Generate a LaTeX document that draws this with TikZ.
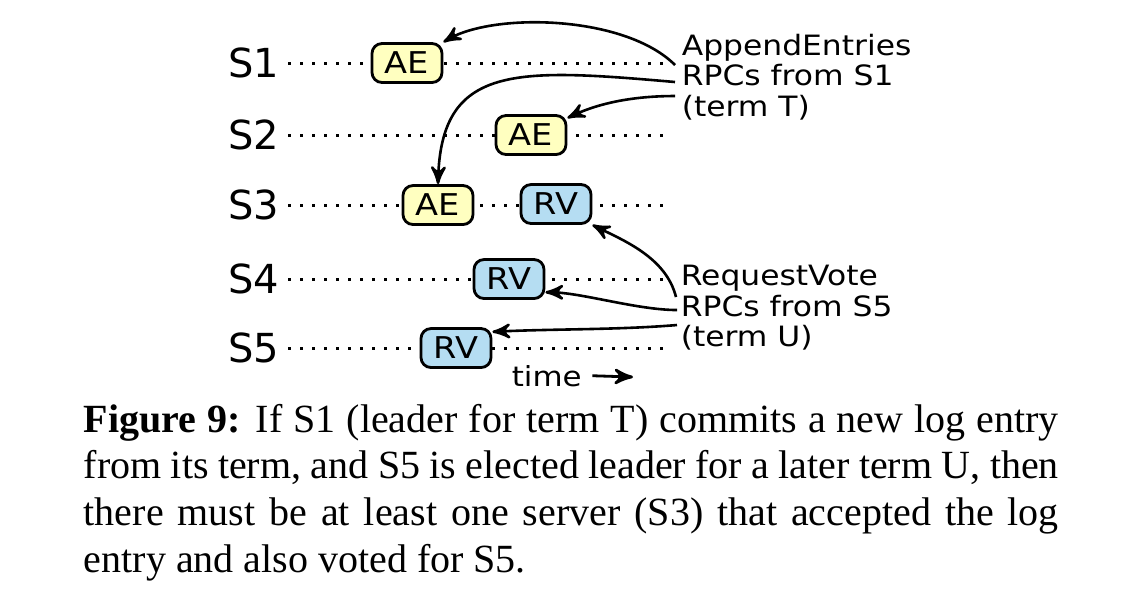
\documentclass[tikz,border=0pt]{standalone}
\usepackage{fontspec}
\setmainfont{Liberation Serif}
\newfontfamily\dvfont{DejaVu Sans}
\newfontfamily\dvwide[FakeStretch=1.12]{DejaVu Sans}
\usepackage{xcolor}
\usepackage{tikz}
\usetikzlibrary{arrows}
\definecolor{aefill}{HTML}{FFFFC0}
\definecolor{rvfill}{HTML}{B5DDF2}

\begin{document}
\begin{tikzpicture}[x=0.25pt, y=-0.25pt,
        srv/.style={font=\dvfont\fontsize{10}{12}\selectfont, inner xsep=2pt, inner ysep=0pt, anchor=east},
        msg/.style={draw, line width=0.7pt, rounded corners=2.5pt, minimum width=17.5pt,
            minimum height=9.75pt, inner sep=0pt, font=\dvwide\fontsize{7.5}{9}\selectfont},
        ae/.style={msg, fill=aefill},
        rv/.style={msg, fill=rvfill},
        note/.style={font=\dvwide\fontsize{7}{7.6}\selectfont, align=left, inner sep=0pt, anchor=west},
        timeline/.style={line width=0.75pt, dash pattern=on 0.75pt off 2.25pt},
        rpc/.style={-stealth', line width=0.65pt}]
        \useasboundingbox (0, 0) rectangle (1130, 594);

        \node[srv] (s1) at (288, 63) {S1};
        \node[srv] (s2) at (288, 135) {S2};
        \node[srv] (s3) at (288, 205) {S3};
        \node[srv] (s4) at (288, 279) {S4};
        \node[srv] (s5) at (288, 348) {S5};
        \foreach \i/\y in {1/63, 2/135, 3/205, 4/279, 5/348} {
            \coordinate (e\i) at (663, \y);
            \draw[timeline] (s\i.east) -- (e\i);
        }

        \node[ae] (ae1) at (407, 63) {AE};
        \node[ae] (ae2) at (531, 135) {AE};
        \node[ae] (ae3) at (438, 205) {AE};
        \node[rv] (rv3) at (556, 204) {RV};
        \node[rv] (rv4) at (509, 279) {RV};
        \node[rv] (rv5) at (456, 348) {RV};

        \node[note] (aetxt) at (681, 77) {AppendEntries\\RPCs from S1\\(term T)};
        \node[note] (rvtxt) at (680, 308) {RequestVote\\RPCs from S5\\(term U)};

        \coordinate (ae-a) at (675, 65);
        \coordinate (ae-b) at (675, 82);
        \coordinate (ae-c) at (675, 96);
        \coordinate (rv-a) at (676, 297);
        \coordinate (rv-b) at (677, 310);
        \coordinate (rv-c) at (677, 325);

        \draw[rpc] (ae-a) .. controls +(-50, -50) and +(50, -30) .. (ae1.north east);
        \draw[rpc] (ae-b) .. controls +(-160, -14) and +(3, -120) .. (ae3.north);
        \draw[rpc] (ae-c) .. controls +(-50, 0) and +(25, -12) .. (ae2.25);
        \draw[rpc] (rv-a) .. controls +(-10, -40) and +(30, 15) .. (rv3.south east);
        \draw[rpc] (rv-b) .. controls +(-40, 0) and +(35, 0) .. (rv4.-20);
        \draw[rpc] (rv-c) .. controls +(-60, 5) and +(60, -3) .. (rv5.24);

        \node[font=\dvwide\fontsize{6.9}{8}\selectfont, inner xsep=2.5pt, inner ysep=0pt, anchor=base west] (time) at (501, 386) {time};
        \coordinate (tend) at (633, 377);
        \draw[-stealth', line width=0.7pt] (time.east) -- (tend);

        \node[anchor=base west, inner sep=0pt, text width=243.75pt, align=justify,
            font=\fontsize{10}{11.7}\selectfont] (caption) at (83, 432)
            {\noindent\textbf{Figure 9:} If S1 (leader for term T) commits a new log entry\linebreak
            from its term, and S5 is elected leader for a later term U, then\linebreak
            there must be at least one server (S3) that accepted the log\linebreak
            entry and also voted for S5.};
    \end{tikzpicture}
\end{document}
